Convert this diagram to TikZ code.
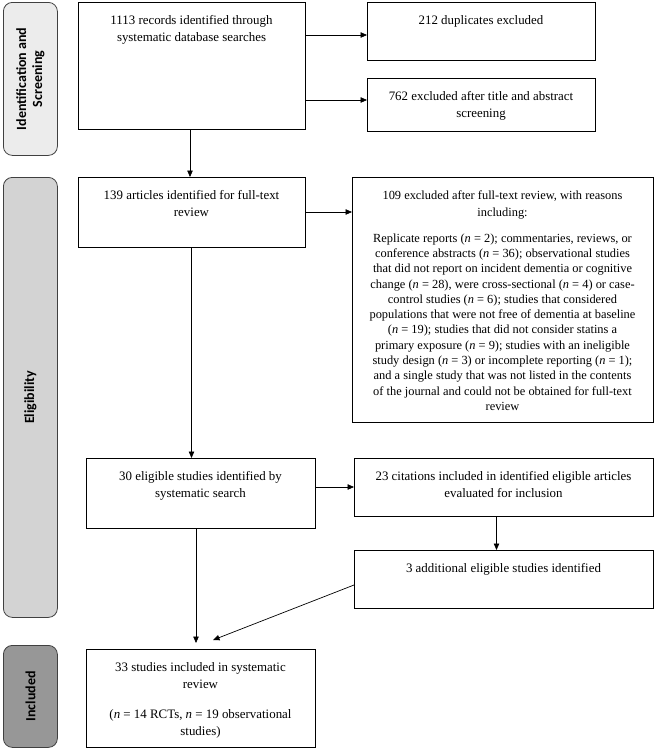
\documentclass[tikz,border=0pt]{standalone}
\usepackage{fontspec}
\setmainfont{Liberation Serif}
\newfontfamily\labfont{Carlito}
\usetikzlibrary{arrows.meta}
\definecolor{sideA}{HTML}{ECECEC}
\definecolor{sideB}{HTML}{D3D3D3}
\definecolor{sideC}{HTML}{979797}
\begin{document}
\begin{tikzpicture}[x=1pt,y=-1pt,
 box/.style={draw, line width=0.8pt, anchor=north west, inner sep=0pt, outer sep=0pt},
 txt/.style={anchor=north, inner sep=0pt, align=center, font=\fontsize{12.9}{17}\selectfont},
 txtb/.style={anchor=north, inner sep=0pt, align=center, font=\fontsize{12.4}{17}\selectfont},
 body/.style={anchor=north, inner sep=0pt, align=center, font=\fontsize{12.4}{15.3}\selectfont},
 side/.style={draw=black!75, line width=0.8pt, rounded corners=9pt, anchor=north west, inner sep=0pt},
 sidetxt/.style={rotate=90, inner sep=0pt, font=\labfont\bfseries\fontsize{14}{16}\selectfont, align=center},
 arr/.style={-{Triangle[length=6.5pt,width=5.5pt]}, line width=0.7pt}
]
\useasboundingbox (0,0) rectangle (656,750);
% side labels
\node[side, fill=sideA, minimum width=54pt, minimum height=153pt] (s1) at (3,2) {};
\node[sidetxt] at (s1.center) {Identification and\\Screening};
\node[side, fill=sideB, minimum width=54pt, minimum height=440pt] (s2) at (3,177) {};
\node[sidetxt] at (s2.center) {Eligibility};
\node[side, fill=sideC, minimum width=54pt, minimum height=102pt] (s3) at (3,645) {};
\node[sidetxt] at (s3.center) {Included};
% boxes
\node[box, minimum width=227pt, minimum height=127pt] (b1) at (78,2) {};
\node[txt] at ([yshift=-13.5pt]b1.north) {1113 records identified through\\systematic database searches};
\node[box, minimum width=228pt, minimum height=58pt] (b212) at (367,2) {};
\node[txt] at ([yshift=-13.5pt]b212.north) {212 duplicates excluded};
\node[box, minimum width=228pt, minimum height=53pt] (b762) at (367,78) {};
\node[txt] at ([yshift=-13pt]b762.north) {762 excluded after title and abstract\\screening};
\node[box, minimum width=227pt, minimum height=70pt] (b139) at (78,177) {};
\node[txt] at ([yshift=-13.5pt]b139.north) {139 articles identified for full-text\\review};
\node[box, minimum width=301pt, minimum height=245pt] (b109) at (352,177) {};
\node[txtb] (t109) at ([yshift=-13.5pt]b109.north) {109 excluded after full-text review, with reasons\\including:};
\node[body, anchor=north] at ([yshift=-14pt]t109.south) {Replicate reports (\textit{n} = 2); commentaries, reviews, or\\
conference abstracts (\textit{n} = 36); observational studies\\
that did not report on incident dementia or cognitive\\
change (\textit{n} = 28), were cross-sectional (\textit{n} = 4) or case-\\
control studies (\textit{n} = 6); studies that considered\\
populations that were not free of dementia at baseline\\
(\textit{n} = 19); studies that did not consider statins a\\
primary exposure (\textit{n} = 9); studies with an ineligible\\
study design (\textit{n} = 3) or incomplete reporting (\textit{n} = 1);\\
and a single study that was not listed in the contents\\
of the journal and could not be obtained for full-text\\
review};
\node[box, minimum width=229pt, minimum height=70pt] (b30) at (86,458) {};
\node[txt] at ([yshift=-13.5pt]b30.north) {30 eligible studies identified by\\systematic search};
\node[box, minimum width=299pt, minimum height=58pt] (b23) at (354,458) {};
\node[txt] at ([yshift=-13.5pt]b23.north) {23 citations included in identified eligible articles\\evaluated for inclusion};
\node[box, minimum width=299pt, minimum height=58pt] (b3) at (354,550) {};
\node[txt] at ([yshift=-13.5pt]b3.north) {3 additional eligible studies identified};
\node[box, minimum width=229pt, minimum height=98pt] (b33) at (86,649) {};
\node[txt] at ([yshift=-13.5pt]b33.north) {33 studies included in systematic\\review\\[13pt](\textit{n} = 14 RCTs, \textit{n} = 19 observational\\studies)};
% arrows
\draw[arr] (b1.east |- 0,35) coordinate (a1) -- (b212.west |- a1);
\draw[arr] (b1.east |- 0,100) coordinate (a2) -- (b762.west |- a2);
\draw[arr] ([xshift=-1.5pt]b1.south) -- ([xshift=-1.5pt]b139.north);
\draw[arr] (b139.east) -- (b109.west |- b139.east);
\draw[arr] (b139.south) -- (b139.south |- b30.north);
\draw[arr] (b30.east |- b23.west) -- (b23.west);
\draw[arr] ([xshift=-7pt]b23.south) -- ([xshift=-7pt]b3.north);
\draw[arr] ([xshift=-4.5pt]b30.south) -- ([xshift=-4.5pt,yshift=6pt]b33.north);
\draw[arr] ([yshift=-6pt]b3.west) -- ([xshift=12.5pt,yshift=9pt]b33.north);
\end{tikzpicture}
\end{document}
